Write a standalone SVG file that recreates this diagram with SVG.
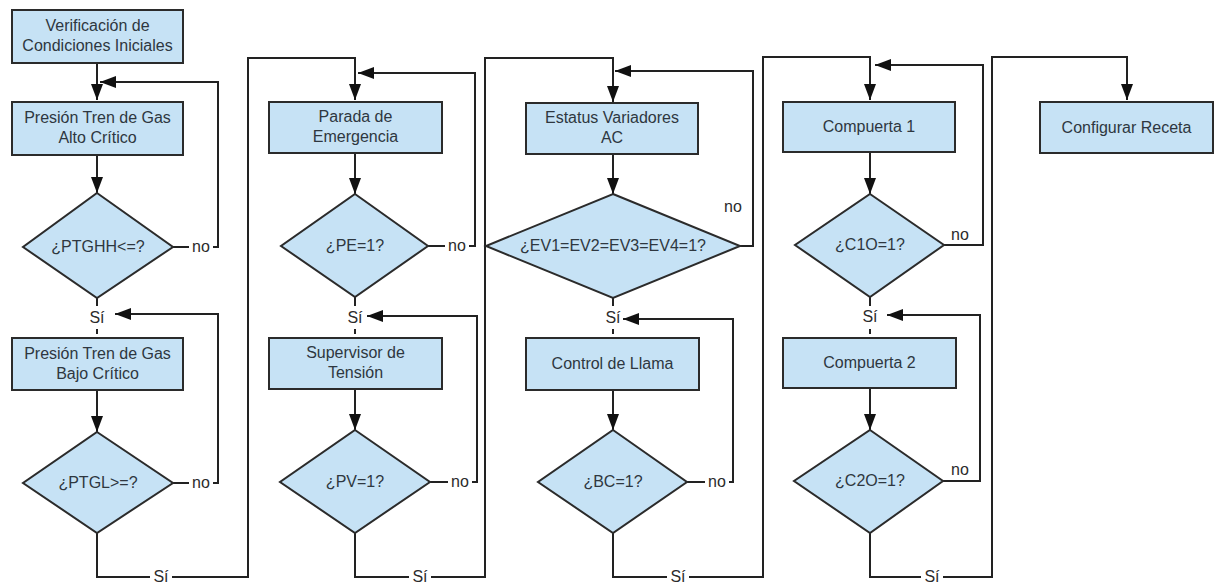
<svg xmlns="http://www.w3.org/2000/svg" width="1217" height="583" viewBox="0 0 1217 583">
  <style>
    .box { fill: #c6e2f5; stroke: #2b2b2b; stroke-width: 2; }
    .txt { font-family: "Liberation Sans", Arial, sans-serif; font-size: 16px; fill: #2e3740; text-anchor: middle; }
    .lbl { font-family: "Liberation Sans", Arial, sans-serif; font-size: 16px; fill: #2b2b2b; text-anchor: middle; }
    .wire { fill: none; stroke: #222; stroke-width: 2; }
    .bg { fill: #ffffff; }
  </style>
  <defs>
    <marker id="arrow" viewBox="0 0 16 12" refX="16" refY="6" markerWidth="16" markerHeight="12" markerUnits="userSpaceOnUse" orient="auto">
      <path d="M0,0 L16,6 L0,12 Z" fill="#111"/>
    </marker>
  </defs>

  <rect width="1217" height="583" fill="#ffffff"/>

  <!-- connectors -->
  <g id="connectors">
    <!-- column 1 -->
    <path class="wire" d="M97,63 V100" marker-end="url(#arrow)"/>
    <path class="wire" d="M97,155 V193" marker-end="url(#arrow)"/>
    <path class="wire" d="M173,247 H218 V82 H100" marker-end="url(#arrow)"/>
    <path class="wire" d="M97,298 V306"/>
    <path class="wire" d="M97,329 V334"/>
    <path class="wire" d="M97,390 V432" marker-end="url(#arrow)"/>
    <path class="wire" d="M173,483 H218 V314 H115" marker-end="url(#arrow)"/>
    <path class="wire" d="M97,533 V577 H248 V58 H355 V100" marker-end="url(#arrow)"/>

    <!-- column 2 -->
    <path class="wire" d="M355,153 V194" marker-end="url(#arrow)"/>
    <path class="wire" d="M428,246 H475 V73 H358" marker-end="url(#arrow)"/>
    <path class="wire" d="M355,297 V306"/>
    <path class="wire" d="M355,329 V334"/>
    <path class="wire" d="M355,389 V430" marker-end="url(#arrow)"/>
    <path class="wire" d="M430,482 H477 V316 H367" marker-end="url(#arrow)"/>
    <path class="wire" d="M355,533 V577 H485 V58 H613 V102" marker-end="url(#arrow)"/>

    <!-- column 3 -->
    <path class="wire" d="M613,154 V194" marker-end="url(#arrow)"/>
    <path class="wire" d="M740,246 H753 V71 H615" marker-end="url(#arrow)"/>
    <path class="wire" d="M613,298 V306"/>
    <path class="wire" d="M613,329 V334"/>
    <path class="wire" d="M613,390 V430" marker-end="url(#arrow)"/>
    <path class="wire" d="M687,482 H733 V319 H623" marker-end="url(#arrow)"/>
    <path class="wire" d="M613,533 V577 H763 V57 H870 V100" marker-end="url(#arrow)"/>

    <!-- column 4 -->
    <path class="wire" d="M870,152 V194" marker-end="url(#arrow)"/>
    <path class="wire" d="M944,245 H983 V65 H875" marker-end="url(#arrow)"/>
    <path class="wire" d="M870,297 V306"/>
    <path class="wire" d="M870,329 V334"/>
    <path class="wire" d="M870,388 V430" marker-end="url(#arrow)"/>
    <path class="wire" d="M943,481 H980 V315 H887" marker-end="url(#arrow)"/>
    <path class="wire" d="M870,533 V577 H992 V57 H1127 V100" marker-end="url(#arrow)"/>

    <!-- branch labels -->
    <rect class="bg" x="189" y="239" width="24" height="16"/>
    <text class="lbl" x="201" y="252">no</text>
    <rect class="bg" x="189" y="475" width="24" height="16"/>
    <text class="lbl" x="201" y="488">no</text>
    <rect class="bg" x="445" y="238" width="24" height="16"/>
    <text class="lbl" x="457" y="251">no</text>
    <rect class="bg" x="448" y="474" width="24" height="16"/>
    <text class="lbl" x="460" y="487">no</text>
    <text class="lbl" x="733" y="212">no</text>
    <rect class="bg" x="705" y="474" width="24" height="16"/>
    <text class="lbl" x="717" y="487">no</text>
    <text class="lbl" x="960" y="240">no</text>
    <text class="lbl" x="960" y="475">no</text>

    <text class="lbl" x="97" y="323">Sí</text>
    <text class="lbl" x="355" y="323">Sí</text>
    <text class="lbl" x="613" y="323">Sí</text>
    <text class="lbl" x="870" y="322">Sí</text>

    <rect class="bg" x="150" y="568" width="22" height="15"/>
    <text class="lbl" x="161" y="582">Sí</text>
    <rect class="bg" x="409" y="568" width="22" height="15"/>
    <text class="lbl" x="420" y="582">Sí</text>
    <rect class="bg" x="667" y="568" width="22" height="15"/>
    <text class="lbl" x="678" y="582">Sí</text>
    <rect class="bg" x="921" y="568" width="22" height="15"/>
    <text class="lbl" x="932" y="582">Sí</text>
  </g>

  <!-- column 1 nodes -->
  <g id="verificacion">
    <rect class="box" x="12" y="10" width="171" height="53"/>
    <text class="txt" x="97.5" y="31">Verificación de</text>
    <text class="txt" x="97.5" y="51">Condiciones Iniciales</text>
  </g>
  <g id="ptg-alto">
    <rect class="box" x="12" y="102" width="171" height="53"/>
    <text class="txt" x="97.5" y="123">Presión Tren de Gas</text>
    <text class="txt" x="97.5" y="143">Alto Crítico</text>
  </g>
  <g id="q-ptghh">
    <polygon class="box" points="97,193 173,247 97,298 23,247"/>
    <text class="txt" x="98" y="252">¿PTGHH&lt;=?</text>
  </g>
  <g id="ptg-bajo">
    <rect class="box" x="12" y="338" width="171" height="52"/>
    <text class="txt" x="97.5" y="359">Presión Tren de Gas</text>
    <text class="txt" x="97.5" y="379">Bajo Crítico</text>
  </g>
  <g id="q-ptgl">
    <polygon class="box" points="97,432 173,483 97,533 23,483"/>
    <text class="txt" x="98" y="488">¿PTGL&gt;=?</text>
  </g>

  <!-- column 2 nodes -->
  <g id="parada">
    <rect class="box" x="269" y="102" width="173" height="51"/>
    <text class="txt" x="355.5" y="122">Parada de</text>
    <text class="txt" x="355.5" y="142">Emergencia</text>
  </g>
  <g id="q-pe">
    <polygon class="box" points="355,194 428,246 355,297 281,246"/>
    <text class="txt" x="355" y="251">¿PE=1?</text>
  </g>
  <g id="supervisor">
    <rect class="box" x="269" y="338" width="173" height="51"/>
    <text class="txt" x="355.5" y="358">Supervisor de</text>
    <text class="txt" x="355.5" y="378">Tensión</text>
  </g>
  <g id="q-pv">
    <polygon class="box" points="355,430 430,482 355,533 280,482"/>
    <text class="txt" x="355" y="487">¿PV=1?</text>
  </g>

  <!-- column 3 nodes -->
  <g id="variadores">
    <rect class="box" x="526" y="103" width="172" height="51"/>
    <text class="txt" x="612" y="123">Estatus Variadores</text>
    <text class="txt" x="612" y="143">AC</text>
  </g>
  <g id="q-ev">
    <polygon class="box" points="613,194 740,246 613,298 486,246"/>
    <text class="txt" x="613" y="251">¿EV1=EV2=EV3=EV4=1?</text>
  </g>
  <g id="llama">
    <rect class="box" x="526" y="338" width="173" height="52"/>
    <text class="txt" x="612.5" y="369">Control de Llama</text>
  </g>
  <g id="q-bc">
    <polygon class="box" points="613,430 687,482 613,533 538,482"/>
    <text class="txt" x="613" y="487">¿BC=1?</text>
  </g>

  <!-- column 4 nodes -->
  <g id="compuerta1">
    <rect class="box" x="783" y="102" width="172" height="50"/>
    <text class="txt" x="869" y="132">Compuerta 1</text>
  </g>
  <g id="q-c1o">
    <polygon class="box" points="870,194 944,245 870,297 795,245"/>
    <text class="txt" x="870" y="250">¿C1O=1?</text>
  </g>
  <g id="compuerta2">
    <rect class="box" x="783" y="338" width="173" height="50"/>
    <text class="txt" x="869.5" y="368">Compuerta 2</text>
  </g>
  <g id="q-c2o">
    <polygon class="box" points="870,430 943,481 870,533 794,481"/>
    <text class="txt" x="870" y="486">¿C2O=1?</text>
  </g>

  <!-- column 5 node -->
  <g id="receta">
    <rect class="box" x="1040" y="102" width="173" height="51"/>
    <text class="txt" x="1126.5" y="133">Configurar Receta</text>
  </g>
</svg>
